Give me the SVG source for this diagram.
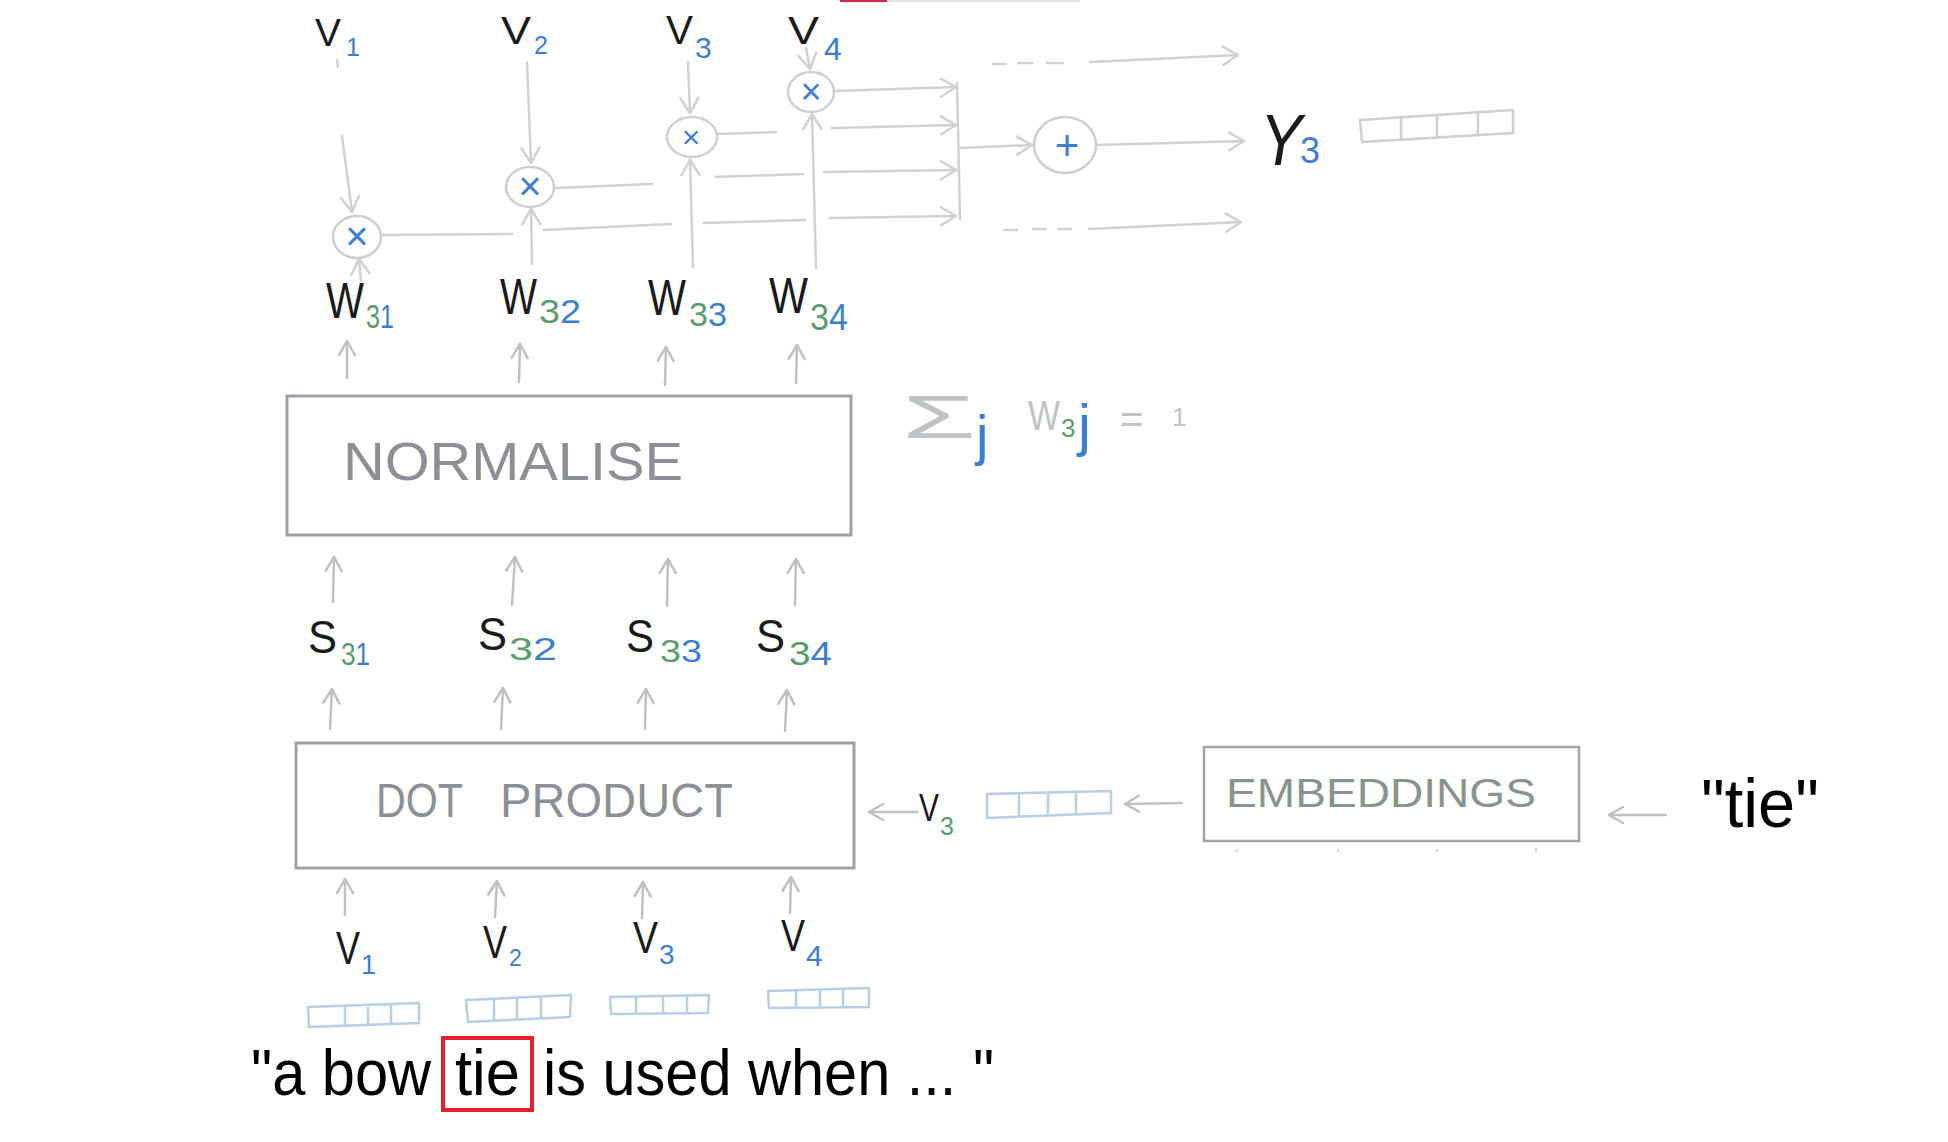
<svg xmlns="http://www.w3.org/2000/svg" width="1948" height="1142" viewBox="0 0 1948 1142">
<style>
  text{font-family:"Liberation Sans",Arial,sans-serif}
  .ln{fill:none;stroke:#cfd2d5;stroke-width:2.5;stroke-linecap:round}
  .ln2{fill:none;stroke:#bdc1c6;stroke-width:2.5;stroke-linecap:round}
  .box{fill:#fff;stroke:#9da1a7;stroke-width:3}
  .circ{fill:#fff;stroke:#cdd0d3;stroke-width:2.5}
  .vec{fill:none;stroke:#b9cde4;stroke-width:2.5;stroke-linejoin:round}
  .vecg{fill:none;stroke:#cdd0d3;stroke-width:2.5;stroke-linejoin:round}
  .hw{fill:#1b1b1b}
  .g{fill:#5a9c6e}
  .b{fill:#3d7ecf}
  .gray{fill:#c0c3c6}
  .boxlbl{fill:#8c9096}
  .op{fill:#3d7ecf}
  .blk{fill:#000}
</style>
<defs>
  <marker id="ah" viewBox="0 0 22 22" refX="19" refY="11" markerWidth="22" markerHeight="22" markerUnits="userSpaceOnUse" orient="auto">
    <path d="M4,2 L19,11 L4,20" fill="none" stroke="#cfd2d5" stroke-width="2.5" stroke-linecap="round" stroke-linejoin="round"/>
  </marker>
  <marker id="ah2" viewBox="0 0 22 22" refX="19" refY="11" markerWidth="22" markerHeight="22" markerUnits="userSpaceOnUse" orient="auto">
    <path d="M5,3 L19,11 L5,19" fill="none" stroke="#bdc1c6" stroke-width="2.5" stroke-linecap="round" stroke-linejoin="round"/>
  </marker>
</defs>
<rect width="1948" height="1142" fill="#fff"/>
<!-- video progress bar remnant -->
<rect x="840" y="0" width="47" height="2" fill="#d32a4a"/>
<rect x="887" y="0" width="193" height="2" fill="#e2e2e2"/>

<g id="connectors">
  <!-- value arrows into multipliers -->
  <line class="ln" x1="337" y1="60" x2="338" y2="67"/>
  <line class="ln" x1="342" y1="136" x2="352" y2="212" marker-end="url(#ah)"/>
  <line class="ln" x1="527" y1="62" x2="531" y2="163" marker-end="url(#ah)"/>
  <line class="ln" x1="688" y1="62" x2="690" y2="113" marker-end="url(#ah)"/>
  <line class="ln" x1="806" y1="48" x2="810" y2="69" marker-end="url(#ah)"/>
  <!-- weight arrows into multipliers -->
  <line class="ln" x1="361" y1="281" x2="359" y2="259" marker-end="url(#ah)"/>
  <line class="ln" x1="532" y1="264" x2="531" y2="209" marker-end="url(#ah)"/>
  <line class="ln" x1="693" y1="267" x2="690" y2="160" marker-end="url(#ah)"/>
  <line class="ln" x1="816" y1="268" x2="812" y2="114" marker-end="url(#ah)"/>
  <!-- rows to collector -->
  <path class="ln" d="M382,235 L512,234 M544,230 L671,224 M704,223 L805,220"/>
  <line class="ln" x1="830" y1="218" x2="956" y2="216" marker-end="url(#ah)"/>
  <path class="ln" d="M555,188 L652,184 M716,177 L803,174"/>
  <line class="ln" x1="824" y1="172" x2="956" y2="170" marker-end="url(#ah)"/>
  <path class="ln" d="M717,134 L776,132"/>
  <line class="ln" x1="832" y1="128" x2="956" y2="125" marker-end="url(#ah)"/>
  <line class="ln" x1="835" y1="91" x2="956" y2="87" marker-end="url(#ah)"/>
  <line class="ln" x1="957" y1="83" x2="960" y2="219"/>
  <line class="ln" x1="959" y1="148" x2="1032" y2="145" marker-end="url(#ah)"/>
  <line class="ln" x1="1096" y1="145" x2="1244" y2="141" marker-end="url(#ah)"/>
  <!-- dashed outputs -->
  <path class="ln" d="M993,64 L1006,64 M1018,63 L1032,63 M1047,63 L1063,63"/>
  <line class="ln" x1="1090" y1="62" x2="1238" y2="55" marker-end="url(#ah)"/>
  <path class="ln" d="M1004,230 L1017,230 M1033,229 L1046,229 M1058,229 L1071,229"/>
  <line class="ln" x1="1089" y1="229" x2="1241" y2="222" marker-end="url(#ah)"/>
  <!-- normalise to weights -->
  <line class="ln2" x1="347" y1="378" x2="347" y2="341" marker-end="url(#ah2)"/>
  <line class="ln2" x1="519" y1="382" x2="520" y2="344" marker-end="url(#ah2)"/>
  <line class="ln2" x1="665" y1="385" x2="666" y2="347" marker-end="url(#ah2)"/>
  <line class="ln2" x1="796" y1="383" x2="797" y2="345" marker-end="url(#ah2)"/>
  <!-- scores to normalise -->
  <line class="ln2" x1="333" y1="602" x2="334" y2="557" marker-end="url(#ah2)"/>
  <line class="ln2" x1="512" y1="605" x2="515" y2="557" marker-end="url(#ah2)"/>
  <line class="ln2" x1="667" y1="606" x2="668" y2="559" marker-end="url(#ah2)"/>
  <line class="ln2" x1="795" y1="605" x2="796" y2="559" marker-end="url(#ah2)"/>
  <!-- dot product to scores -->
  <line class="ln2" x1="330" y1="729" x2="332" y2="689" marker-end="url(#ah2)"/>
  <line class="ln2" x1="501" y1="729" x2="503" y2="688" marker-end="url(#ah2)"/>
  <line class="ln2" x1="645" y1="729" x2="646" y2="689" marker-end="url(#ah2)"/>
  <line class="ln2" x1="785" y1="731" x2="787" y2="690" marker-end="url(#ah2)"/>
  <!-- inputs to dot product -->
  <line class="ln2" x1="345" y1="915" x2="345" y2="879" marker-end="url(#ah2)"/>
  <line class="ln2" x1="495" y1="917" x2="497" y2="881" marker-end="url(#ah2)"/>
  <line class="ln2" x1="642" y1="918" x2="643" y2="882" marker-end="url(#ah2)"/>
  <line class="ln2" x1="790" y1="913" x2="791" y2="877" marker-end="url(#ah2)"/>
  <!-- horizontal query path -->
  <line class="ln2" x1="917" y1="812" x2="869" y2="812" marker-end="url(#ah2)"/>
  <line class="ln2" x1="1182" y1="803" x2="1125" y2="804" marker-end="url(#ah2)"/>
  <line class="ln2" x1="1666" y1="815" x2="1609" y2="815" marker-end="url(#ah2)"/>
  <!-- faint ticks under embeddings -->
  <path d="M1236,849 L1237,852 M1338,849 L1338,852 M1437,849 L1437,852 M1536,848 L1536,852" stroke="#d6d8db" stroke-width="2" fill="none"/>
</g>

<!-- top value labels -->
<g id="v-top">
  <text class="hw" x="315" y="46" font-size="38" textLength="26" lengthAdjust="spacingAndGlyphs">V</text>
  <text class="b" x="346" y="56" font-size="25">1</text>
  <text class="hw" x="501" y="44" font-size="38" textLength="30" lengthAdjust="spacingAndGlyphs">V</text>
  <text class="b" x="534" y="54" font-size="25">2</text>
  <text class="hw" x="666" y="44" font-size="40" textLength="27" lengthAdjust="spacingAndGlyphs">V</text>
  <text class="b" x="695" y="58" font-size="30">3</text>
  <text class="hw" x="788" y="44" font-size="38" textLength="31" lengthAdjust="spacingAndGlyphs">V</text>
  <text class="b" x="824" y="60" font-size="32">4</text>
</g>

<g id="mult1"><ellipse class="circ" cx="357" cy="237" rx="24" ry="21"/><text class="op" x="357" y="250" font-size="40" text-anchor="middle">×</text></g>
<g id="mult2"><ellipse class="circ" cx="530" cy="187" rx="24" ry="20"/><text class="op" x="530" y="200" font-size="40" text-anchor="middle">×</text></g>
<g id="mult3"><ellipse class="circ" cx="692" cy="137" rx="25" ry="20"/><text class="op" x="691" y="148" font-size="32" text-anchor="middle">×</text></g>
<g id="mult4"><ellipse class="circ" cx="811" cy="92" rx="23" ry="20"/><text class="op" x="811" y="104" font-size="36" text-anchor="middle">×</text></g>
<g id="plus"><ellipse class="circ" cx="1065" cy="145" rx="31" ry="28"/><text class="op" x="1067" y="160" font-size="42" text-anchor="middle">+</text></g>

<g id="y3">
  <text class="hw" x="1260" y="165" font-size="72" font-style="italic" textLength="42" lengthAdjust="spacingAndGlyphs">Y</text>
  <text class="b" x="1300" y="163" font-size="36">3</text>
  <path class="vecg" d="M1360,120 L1513,110 L1513,133 L1362,142 Z M1401,117 L1401,140 M1437,115 L1437,138 M1478,112 L1478,135"/>
</g>

<!-- weights -->
<g id="weights">
  <text class="hw" x="326" y="318" font-size="50" textLength="38" lengthAdjust="spacingAndGlyphs">W</text>
  <text x="366" y="328" font-size="34" textLength="28" lengthAdjust="spacingAndGlyphs"><tspan class="g">3</tspan><tspan class="b">1</tspan></text>
  <text class="hw" x="500" y="314" font-size="50" textLength="37" lengthAdjust="spacingAndGlyphs">W</text>
  <text x="539" y="323" font-size="34" textLength="42" lengthAdjust="spacingAndGlyphs"><tspan class="g">3</tspan><tspan class="b">2</tspan></text>
  <text class="hw" x="648" y="315" font-size="50" textLength="38" lengthAdjust="spacingAndGlyphs">W</text>
  <text x="689" y="326" font-size="34" textLength="38" lengthAdjust="spacingAndGlyphs"><tspan class="g">3</tspan><tspan class="b">3</tspan></text>
  <text class="hw" x="769" y="313" font-size="50" textLength="39" lengthAdjust="spacingAndGlyphs">W</text>
  <text x="810" y="330" font-size="36" textLength="38" lengthAdjust="spacingAndGlyphs"><tspan class="g">3</tspan><tspan class="b">4</tspan></text>
</g>

<g id="normalise">
  <rect class="box" x="287" y="396" width="564" height="139"/>
  <text class="boxlbl" x="343" y="480" font-size="54" textLength="340" lengthAdjust="spacingAndGlyphs">NORMALISE</text>
</g>

<g id="constraint">
  <text class="gray" x="902" y="438" font-size="62" textLength="74" lengthAdjust="spacingAndGlyphs">Σ</text>
  <text class="b" x="976" y="454" font-size="56">j</text>
  <text class="gray" x="1028" y="430" font-size="42" textLength="32" lengthAdjust="spacingAndGlyphs">W</text>
  <text class="g" x="1061" y="437" font-size="26">3</text>
  <text class="b" x="1078" y="445" font-size="58">j</text>
  <text class="gray" x="1120" y="433" font-size="40">=</text>
  <text class="gray" x="1172" y="426" font-size="26">1</text>
</g>

<g id="scores">
  <text class="hw" x="308" y="653" font-size="46" textLength="29" lengthAdjust="spacingAndGlyphs">S</text>
  <text x="341" y="665" font-size="32" textLength="29" lengthAdjust="spacingAndGlyphs"><tspan class="g">3</tspan><tspan class="b">1</tspan></text>
  <text class="hw" x="478" y="650" font-size="46" textLength="29" lengthAdjust="spacingAndGlyphs">S</text>
  <text x="509" y="660" font-size="32" textLength="48" lengthAdjust="spacingAndGlyphs"><tspan class="g">3</tspan><tspan class="b">2</tspan></text>
  <text class="hw" x="626" y="652" font-size="46" textLength="28" lengthAdjust="spacingAndGlyphs">S</text>
  <text x="660" y="662" font-size="32" textLength="42" lengthAdjust="spacingAndGlyphs"><tspan class="g">3</tspan><tspan class="b">3</tspan></text>
  <text class="hw" x="756" y="652" font-size="46" textLength="29" lengthAdjust="spacingAndGlyphs">S</text>
  <text x="789" y="665" font-size="34" textLength="43" lengthAdjust="spacingAndGlyphs"><tspan class="g">3</tspan><tspan class="b">4</tspan></text>
</g>

<g id="dot-product">
  <rect class="box" x="296" y="743" width="558" height="125"/>
  <text class="boxlbl" y="817" font-size="48"><tspan x="376" textLength="87" lengthAdjust="spacingAndGlyphs">DOT</tspan><tspan x="500" textLength="233" lengthAdjust="spacingAndGlyphs">PRODUCT</tspan></text>
</g>

<g id="query">
  <text class="hw" x="919" y="821" font-size="38" textLength="20" lengthAdjust="spacingAndGlyphs">V</text>
  <text class="g" x="940" y="835" font-size="25">3</text>
  <path class="vec" d="M987,794 L1111,791 L1111,813 L987,818 Z M1019,793 L1019,817 M1048,793 L1048,816 M1076,792 L1076,815"/>
</g>

<g id="embeddings">
  <rect x="1204" y="747" width="375" height="94" fill="#fff" stroke="#a0a4a8" stroke-width="2.5"/>
  <text x="1226" y="807" font-size="40" fill="#8a948e" textLength="310" lengthAdjust="spacingAndGlyphs">EMBEDDINGS</text>
</g>

<g id="tie-word">
  <text class="blk" x="1701" y="827" font-size="68" textLength="118" lengthAdjust="spacingAndGlyphs">"tie"</text>
</g>

<g id="v-bottom">
  <text class="hw" x="336" y="964" font-size="46" textLength="24" lengthAdjust="spacingAndGlyphs">V</text>
  <text class="b" x="361" y="974" font-size="27">1</text>
  <text class="hw" x="483" y="958" font-size="46" textLength="24" lengthAdjust="spacingAndGlyphs">V</text>
  <text class="b" x="509" y="966" font-size="23">2</text>
  <text class="hw" x="633" y="953" font-size="44" textLength="25" lengthAdjust="spacingAndGlyphs">V</text>
  <text class="b" x="659" y="964" font-size="28">3</text>
  <text class="hw" x="781" y="951" font-size="44" textLength="24" lengthAdjust="spacingAndGlyphs">V</text>
  <text class="b" x="806" y="966" font-size="30">4</text>
  <path class="vec" d="M308,1007 L419,1003 L419,1023 L309,1027 Z M345,1006 L345,1026 M368,1005 L368,1025 M391,1004 L391,1024"/>
  <path class="vec" d="M466,1000 L571,995 L570,1017 L468,1022 Z M494,999 L494,1021 M517,998 L517,1020 M541,997 L541,1019"/>
  <path class="vec" d="M610,997 L709,995 L708,1013 L611,1014 Z M636,997 L636,1014 M663,996 L663,1014 M687,996 L687,1013"/>
  <path class="vec" d="M768,991 L869,988 L869,1007 L769,1008 Z M796,990 L796,1008 M820,990 L820,1008 M843,989 L843,1007"/>
</g>

<g id="sentence">
  <text class="blk" y="1095" font-size="64"><tspan x="251" textLength="180" lengthAdjust="spacingAndGlyphs">"a bow</tspan><tspan x="455" textLength="65" lengthAdjust="spacingAndGlyphs">tie</tspan><tspan x="543" textLength="451" lengthAdjust="spacingAndGlyphs">is used when ... "</tspan></text>
  <rect x="443" y="1038" width="89" height="72" fill="none" stroke="#e3202b" stroke-width="4"/>
</g>
</svg>
